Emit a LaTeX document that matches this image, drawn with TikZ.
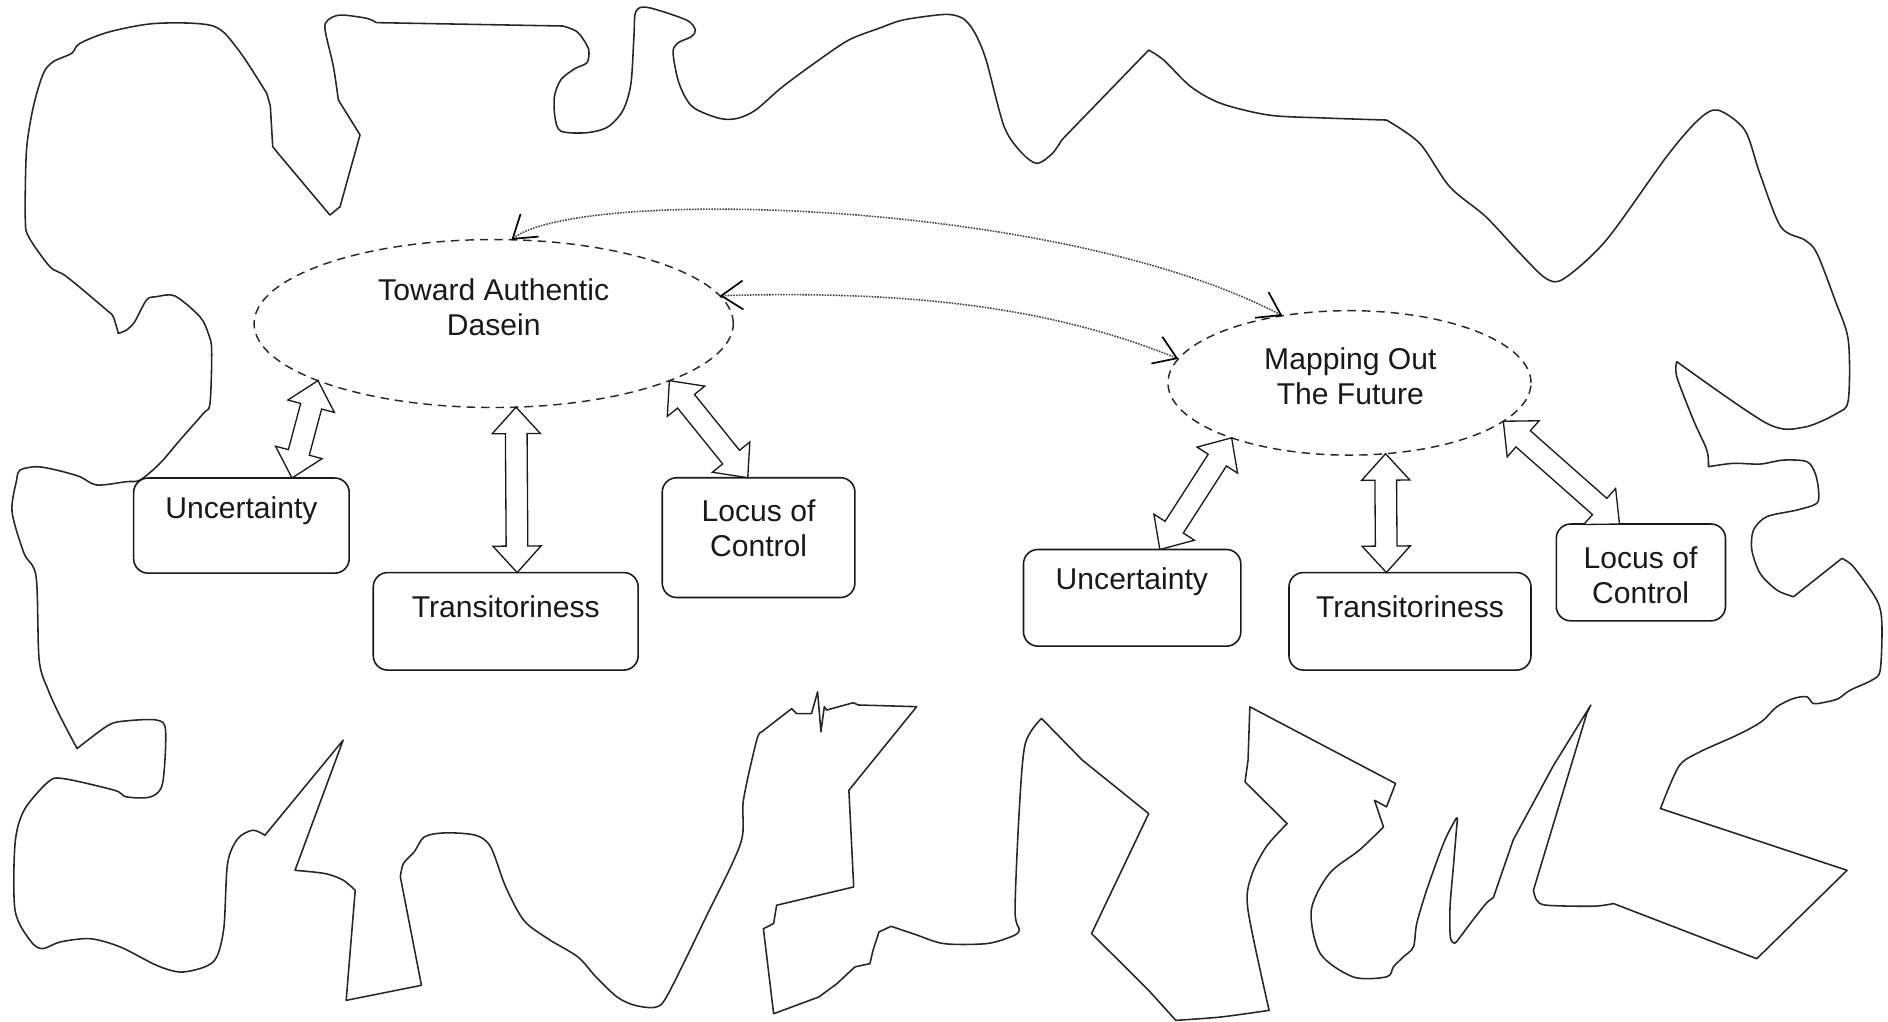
\documentclass[tikz,border=0pt]{standalone}
\usepackage{fontspec}
\setmainfont{Liberation Sans}
\usetikzlibrary{shapes.geometric,calc,arrows.meta}
\tikzset{
  outline/.style={draw=black!85, line width=1.3pt, line join=round},
  ell/.style={ellipse, draw=black!85, line width=1.2pt, dash pattern=on 7pt off 5pt, inner sep=0pt, outer sep=0pt},
  box/.style={draw=black!90, line width=1.3pt, rounded corners=12pt, inner sep=0pt, outer sep=0pt},
  lbl/.style={align=center, font=\fontsize{25}{29}\selectfont, inner sep=0pt, text=black!90},
  barb/.tip={Straight Barb[length=18pt,width=24pt,line width=1.4pt,color=black]},
  dotline/.style={densely dotted, line width=1.3pt, draw=black!75, arrows={barb-barb}},
  dblarrow/.style={draw=black!90, line width=1.1pt, fill=white, line join=miter,
    to path={
      -- ($(\tikztostart)!22pt!(\tikztotarget)!20pt!90:(\tikztotarget)$)
      -- ($(\tikztostart)!22pt!(\tikztotarget)!9pt!90:(\tikztotarget)$)
      -- ($(\tikztotarget)!22pt!(\tikztostart)!9pt!270:(\tikztostart)$)
      -- ($(\tikztotarget)!22pt!(\tikztostart)!20pt!270:(\tikztostart)$)
      -- (\tikztotarget)
      -- ($(\tikztotarget)!22pt!(\tikztostart)!20pt!90:(\tikztostart)$)
      -- ($(\tikztotarget)!22pt!(\tikztostart)!9pt!90:(\tikztostart)$)
      -- ($(\tikztostart)!22pt!(\tikztotarget)!9pt!270:(\tikztotarget)$)
      -- ($(\tikztostart)!22pt!(\tikztotarget)!20pt!270:(\tikztotarget)$)
      -- cycle}}
}
\begin{document}
\begin{tikzpicture}[x=1pt,y=-1pt]
\useasboundingbox (0,0) rectangle (1568,848);

% ---------- irregular outline ----------
\draw[outline] (98.3,276.9)
 -- plot[smooth,tension=0.5] coordinates {(98.3,276.9) (94,263) (88.6,257.5) (55.4,229.8) (41.5,221.5) (24,197) (21,182) (22,125) (27.7,88.6) (36,61) (44.3,51.2) (59.5,44.3) (66.4,36) (91.4,26.3) (130,19.4) (177,21.6) (198,41.5) (221.5,77.5)}
 -- (224.5,88) -- (226.5,121.8) -- (231,127.4) -- (274,178.6) -- (282.4,171.7) -- (299,112) -- (281,83)
 -- plot[smooth,tension=0.5] coordinates {(281,83) (276.9,55.4) (270,25) (272,17) (282.4,12.5) (304.5,15.2) (312.5,18.8)}
 -- (467.5,21.6)
 -- plot[smooth,tension=0.5] coordinates {(467.5,21.6) (478,25.5) (484,32) (489,41.6) (487.5,52) (477.5,57) (466,66) (460.5,80) (461,98) (466,109) (487.5,110.2) (505,105.3) (517.5,91.4) (524,69.3) (526.5,30) (528,10) (537.5,6.1) (570,16.6) (577.5,25) (574,30.5) (562.5,36) (559,44.3) (564,69.3) (575,88.6) (597.5,98.3) (612.5,98.3) (627.5,91.4) (650,72) (680,49.9) (705,33.2) (730,23.5) (750,16.6) (780,12.3) (792,12.5) (801.5,16.6) (810,28) (819,49.9) (834,105.3) (849,127.4) (861.5,135.7) (874,127.4) (882,116)}
 -- (954,41.6)
 -- plot[smooth,tension=0.5] coordinates {(954,41.6) (966.5,49.9) (989,72) (1014,85.9) (1054,95.6) (1100,98) (1151.5,99.7)}
 -- plot[smooth,tension=0.5] coordinates {(1151.5,99.7) (1179,119) (1204,155.1) (1234,180) (1262,210) (1284,231.3) (1299,231.3) (1334,199.4) (1384,130.2) (1410,100) (1426.5,91.4) (1449,108) (1461.5,144) (1479,188.4) (1499,199.4) (1509,210.5) (1524,249.3) (1535,282.4) (1535,332.3) (1525.5,343.3) (1497.8,354.9) (1467.3,351.6) (1392.6,300.4)}
 -- plot[smooth,tension=0.5] coordinates {(1392.6,300.4) (1392.6,312.9) (1406.4,348.9) (1417.5,373.8) (1418.9,387.6)}
 -- plot[smooth,tension=0.5] coordinates {(1418.9,387.6) (1439.6,384.8) (1461.8,385.4) (1481.2,382.1) (1500.6,383.4) (1507.5,393.1) (1510.3,407) (1508.9,418) (1492.3,423.6) (1467.3,429.1) (1456.3,440.2) (1454.9,456.8) (1461.8,476.2) (1475.6,490) (1489.5,495.6)}
 -- (1529.6,463.8)
 -- plot[smooth,tension=0.5] coordinates {(1529.6,463.8) (1539.3,470.7) (1558.7,498.4) (1562.9,517.8) (1561.5,556.6) (1554.5,564.9) (1536.6,573.2) (1526.9,580.1) (1517.2,582.9) (1506.1,584.3) (1500.6,578.7) (1489.5,580.1) (1475.6,587) (1464.5,598.1) (1453.5,605) (1439.6,611.9) (1409,625.8) (1394,636.9) (1379,671.5)}
 -- (1534,722.8) -- (1459,796.2) -- (1340,750.4)
 -- plot[smooth,tension=0.5] coordinates {(1340,750.4) (1323.4,752.6) (1284.6,751.8) (1276.3,747.7) (1273.5,739.4)}
 -- (1318,592) -- (1321.2,585.5) -- (1290,636) -- (1256.8,697.4) -- (1240.2,745.6)
 -- plot[smooth,tension=0.5] coordinates {(1240.2,745.6) (1234.7,749.8) (1223.6,763.6) (1212,779) (1208,783.4) (1204.5,778) (1204.3,752.6) (1207,720) (1209.5,690) (1210.3,679.5) (1208,682) (1199,700) (1184.9,739.1) (1176.6,767) (1173.9,786.3) (1165.6,794.6) (1157.3,802.9) (1151.8,811.2) (1124,811.4) (1096.5,792) (1089,756) (1104,725.5) (1129,706) (1149,686.8)}
 -- (1141.5,664.6) -- (1151.5,670.1) -- (1159,650.7) -- (1038,587) -- (1036.5,631.4) -- (1034,649.4) -- (1069,684)
 -- plot[smooth,tension=0.5] coordinates {(1069,684) (1051.5,703.4) (1039,728.3) (1036.5,756) (1054,839.1)}
 -- plot[smooth,tension=0.5] coordinates {(1054,839.1) (1014,844.6) (976.5,847.4)}
 -- (954,822.5) -- (929,797.6) -- (906.5,775.4) -- (954,675.7) -- (899,631.4) -- (865,596.7)
 -- plot[smooth,tension=0.5] coordinates {(865,596.7) (851.5,617.5) (846.5,672.9) (843,756) (846.5,772.6) (839,778.2) (819,783.7) (784,783.7) (760,776) (740,769.3)}
 -- (730,774) -- (725,789.3) -- (722.5,800.3) -- (710,803) -- (695,817) -- (680,828) -- (642.5,841.9) -- (634,771.3) -- (642.5,767) -- (645,751.8) -- (709,736.6) -- (705,656.3) -- (761.3,586.9) -- (712.8,585.5) -- (708.7,583.6) -- (686.5,589.7) -- (684.6,586.9) -- (681.8,607.7) -- (679,574.5) -- (674,592.6) -- (661.6,592.6) -- (657.5,588.5) -- (632.5,607.9)
 -- plot[smooth,tension=0.5] coordinates {(632.5,607.9) (628.4,614.8) (617.4,664.6) (615,700.6) (585,764.3) (555,825.3) (545,836.3) (527.5,835) (512.5,828) (495,811.4) (480,794.8) (455,779.6) (435,764.3) (420,736.6) (407.5,703.4) (395,693.7) (370,691.7) (352.5,695) (344,707.5) (335,717.2) (332.5,728.3)}
 -- (350,818.3) -- (287.5,830.8) -- (295,739.4)
 -- plot[smooth,tension=0.5] coordinates {(295,739.4) (285,731) (270,725.5) (245,722.8)}
 -- (285,614.7) -- (220,693.7)
 -- plot[smooth,tension=0.5] coordinates {(220,693.7) (210,689.5) (197.5,696.5) (189,717.2) (186,769.9) (180,794.8) (170,803) (150,807.3) (130,801.7) (100,786.5) (75,779.6) (50,782.3) (35,787.9) (25,781) (12.5,756) (12.5,700.6) (20,672.9) (40,649.4) (52.5,646.6) (95,656.3) (105,661.8) (125,661.8) (135,650.7) (137.5,606.4) (130,598) (105,598.7) (90,602.3) (64,621.7)}
 -- plot[smooth,tension=0.5] coordinates {(64,621.7) (50,595) (40,573) (32.5,548) (30,479) (20,459.6) (10,425) (13.8,398.7) (16.6,390.4) (30.5,387.6) (47,390.4) (66.4,395.9) (80.3,402.8) (105.2,400) (116.3,398.7) (132.9,384.8) (149.5,365.4) (168.9,343.3) (174.4,335) (175.8,290.7) (173,276.9) (166,263) (145.3,245.8) (130,246.4) (121.8,249) (112,267) (105.2,274) (98.3,276.9)}
 -- cycle;

% ---------- ellipses ----------
\node[ell, minimum width=398pt, minimum height=139.5pt] (tad) at (410,268.7) {};
\node[ell, minimum width=301.5pt, minimum height=120pt] (mof) at (1120.75,318) {};

% ---------- boxes ----------
\node[box, minimum width=179pt, minimum height=79pt] (u1) at (200.5,436.5) {};
\node[box, minimum width=220pt, minimum height=81pt] (t1) at (420,516) {};
\node[box, minimum width=160pt, minimum height=99.5pt] (l1) at (630,446.5) {};
\node[box, minimum width=180.5pt, minimum height=80.3pt] (u2) at (940.25,496.5) {};
\node[box, minimum width=201pt, minimum height=81pt] (t2) at (1171,516) {};
\node[box, minimum width=140.5pt, minimum height=80.4pt] (l2) at (1362.75,475.4) {};

% ---------- double arrows ----------
\draw[dblarrow] (tad.198.8) to ([xshift=42pt]u1.north);
\draw[dblarrow] (tad.285.6) to ([xshift=9.5pt]t1.north);
\draw[dblarrow] (tad.342.25) to ([xshift=-9pt]l1.north);
\draw[dblarrow] (mof.205) to ([xshift=23pt]u2.north);
\draw[dblarrow] (mof.297.45) to ([xshift=-19.6pt]t2.north);
\draw[dblarrow] (mof.346.2) to ([xshift=-17.75pt]l2.north);

% ---------- dotted links ----------
\draw[dotline] (tad.78.6) .. controls (480,155) and (880,165) .. (mof.135.6);
\draw[dotline] (tad.7.4) .. controls (780,240) and (890,262) .. (mof.172.6);

% ---------- labels ----------
\node[lbl] (tadtext) at (410,255.5) {Toward Authentic\\Dasein};
\node[lbl] (moftext) at (1121.5,312.3) {Mapping Out\\The Future};
\node[lbl] (u1text) at (200.5,424) {Uncertainty};
\node[lbl] (t1text) at (420,504) {Transitoriness};
\node[lbl] (l1text) at (630,439) {Locus of\\Control};
\node[lbl] (u2text) at (940,483) {Uncertainty};
\node[lbl] (t2text) at (1171,504) {Transitoriness};
\node[lbl] (l2text) at (1362.5,477.6) {Locus of\\Control};
\end{tikzpicture}
\end{document}
